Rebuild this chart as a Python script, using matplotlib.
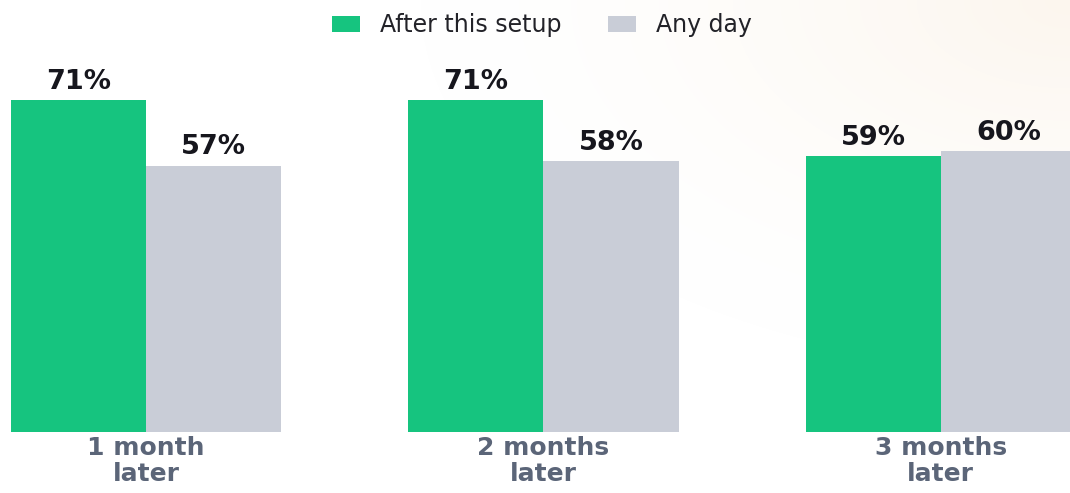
import numpy as np
import matplotlib
matplotlib.use("Agg")
import matplotlib.pyplot as plt

plt.rcParams["font.family"] = ["DejaVu Sans"]

categories = ["1 month\nlater", "2 months\nlater", "3 months\nlater"]
after_setup = [71, 71, 59]
any_day = [57, 58, 60]
series_names = ["After this setup", "Any day"]

GREEN = "#16c47f"
GRAY = "#c9cdd7"

fig = plt.figure(figsize=(10.70, 4.93), dpi=100)

# faint warm glow in the top-right corner
bg = fig.add_axes([0, 0, 1, 1], zorder=-10)
yy, xx = np.mgrid[0:493, 0:1070]
d = np.hypot((xx - 1070) * 0.8, yy * 1.4) / 520.0
t = np.clip(1 - d, 0, 1) ** 1.5
warm = np.array([252, 246, 238]) / 255.0
img = np.ones((493, 1070, 3)) * (1 - t[..., None]) + warm * t[..., None]
bg.imshow(img, aspect="auto", extent=(0, 1, 0, 1), origin="upper")
bg.axis("off")

ax = fig.add_axes([11 / 1070, 61 / 493, 1059 / 1070, 432 / 493])
ax.patch.set_alpha(0)
x = np.arange(len(categories))
w = 0.34
b1 = ax.bar(x - w / 2, after_setup, w, color=GREEN, label=series_names[0])
b2 = ax.bar(x + w / 2, any_day, w, color=GRAY, label=series_names[1])
for bars, vals in ((b1, after_setup), (b2, any_day)):
    for b, v in zip(bars, vals):
        ax.text(b.get_x() + b.get_width() / 2, v + 1.1, f"{v}%", ha="center", va="bottom",
                fontsize=19.5, fontweight="bold", color="#16161d")

ax.set_xlim(-0.34, 2.325)
ax.set_ylim(0, 92.4)
ax.set_xticks(x)
ax.set_xticklabels(categories, fontsize=18, fontweight="bold", color="#5b6578",
                   linespacing=1.08)
ax.tick_params(axis="x", length=0, pad=3)
ax.set_yticks([])
for s in ax.spines.values():
    s.set_visible(False)

fig.legend(handles=[b1, b2], loc="center", bbox_to_anchor=(542 / 1070, 1 - 25 / 493),
           ncol=2, frameon=False, fontsize=17, handlelength=1.15, handleheight=0.64,
           columnspacing=2.0, handletextpad=0.85, labelcolor="#222228")

fig.savefig("out.png", dpi=100)
